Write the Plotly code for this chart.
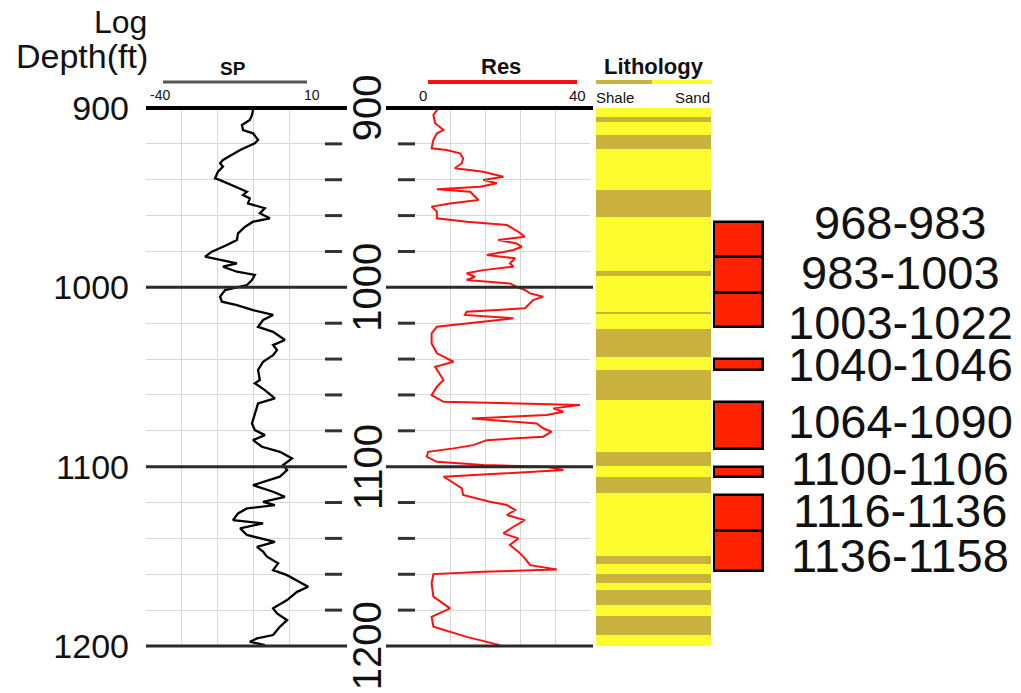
import plotly.graph_objects as go

# ---------------- data ----------------
sp_depth = [901.1, 903.9, 906.7, 909.5, 912.3, 914.1, 917.8, 919.7, 923.4, 926.2,
            929.0, 930.8, 932.7, 935.5, 939.2, 940.2, 942.9, 944.8, 946.7, 948.5,
            950.4, 953.2, 955.9, 958.7, 961.5, 963.4, 966.2, 969.9, 973.6, 976.4,
            980.1, 982.9, 984.8, 986.6, 988.5, 991.3, 993.1, 995.9, 998.7, 1001.5,
            1005.2, 1008.0, 1009.9, 1012.7, 1015.4, 1018.2, 1022.0, 1024.8, 1029.4, 1032.2,
            1035.0, 1037.8, 1041.5, 1046.1, 1051.7,
            1053.5, 1057.3, 1061.9, 1064.7, 1070.3, 1075.9, 1079.6, 1082.4, 1085.2, 1088.9,
            1091.7, 1095.4, 1099.1, 1101.9, 1105.6, 1110.3, 1114.0, 1116.8, 1119.6, 1121.4,
            1123.3, 1126.1, 1129.8, 1131.6, 1134.4, 1138.1, 1141.9, 1144.7, 1147.4, 1150.2,
            1153.9, 1157.7, 1160.5, 1164.2, 1167.0, 1169.8, 1174.4, 1179.0, 1181.8, 1185.6,
            1189.3, 1193.9, 1195.8, 1197.6, 1199.5]
sp_value = [-10.1, -10.4, -11.0, -13.2, -12.9, -10.1, -8.7, -9.6, -13.7, -16.0,
            -18.5, -19.3, -18.5, -19.9, -20.7, -19.3, -16.0, -13.7, -11.8, -12.9,
            -11.0, -11.5, -6.8, -8.2, -5.4, -10.1, -12.3, -14.3, -14.6, -17.4,
            -21.6, -23.5, -19.3, -14.6, -18.5, -14.6, -9.6, -10.4, -11.8, -17.9,
            -19.3, -18.8, -14.6, -10.1, -4.5, -7.3, -8.7, -4.5, -1.2, -4.5,
            -3.4, -4.5, -7.3, -8.7, -8.2,
            -9.6, -6.8, -4.0, -8.7, -9.6, -10.4, -9.6, -6.8, -10.1, -7.6,
            -2.6, 0.8, -1.7, -0.6, -2.6, -10.1, -4.5, -1.2, -7.3, -4.0,
            -11.8, -14.3, -15.7, -7.3, -13.7, -11.8, -4.0, -9.0, -7.3, -6.2,
            -3.1, -4.5, -0.6, 3.0, 5.3, 2.2, -0.6, -4.5, -3.4, -0.6,
            -2.6, -4.5, -9.0, -11.0, -6.8]

res_depth = [900.2, 903.9, 908.5, 912.3, 914.1, 917.8, 922.5, 923.4, 925.3, 928.1,
             930.8, 933.6, 935.5, 938.3, 940.2, 942.0, 943.9, 945.3, 946.7, 949.5,
             951.3, 953.2, 955.0, 957.8, 961.5, 963.4, 965.3, 969.0, 971.8, 973.6,
             975.5, 977.4, 979.2, 982.0, 983.8, 986.6, 988.5, 990.4, 992.2, 994.1,
             995.9, 997.8, 999.7, 1001.5, 1003.4, 1005.2, 1007.1, 1008.9, 1011.7, 1013.6,
             1015.4, 1017.3, 1019.2, 1022.0, 1025.7, 1031.3, 1036.8, 1041.5, 1044.3, 1049.9,
             1051.7, 1055.4, 1060.1, 1063.8, 1064.7, 1065.6, 1067.5, 1069.4, 1071.2, 1073.1,
             1075.9, 1078.6, 1080.5, 1083.3, 1085.2, 1088.0, 1089.8, 1091.7, 1094.5, 1097.3,
             1099.1, 1100.0, 1101.9, 1103.7, 1105.6, 1108.4, 1112.1, 1115.8, 1117.7, 1119.6,
             1121.4, 1124.2, 1127.0, 1129.8, 1133.5, 1137.2, 1140.0, 1143.7, 1147.4, 1151.1,
             1154.9, 1157.3, 1158.6, 1159.9, 1165.1, 1172.5, 1179.0, 1183.7, 1189.3, 1194.9,
             1199.5]
res_value = [5.3, 4.2, 4.6, 6.5, 5.0, 4.2, 3.8, 7.2, 10.3, 11.0,
             10.7, 9.1, 15.6, 20.2, 15.6, 18.7, 14.9, 5.0, 12.6, 13.7,
             14.5, 8.0, 3.8, 5.0, 5.0, 11.8, 21.0, 23.6, 25.1, 19.0,
             23.2, 24.4, 22.5, 16.4, 22.9, 21.7, 22.5, 15.6, 11.8, 13.7,
             11.8, 21.7, 23.2, 25.1, 26.3, 29.3, 27.0, 26.3, 25.1, 11.8,
             11.4, 22.5, 15.6, 5.0, 3.8, 3.8, 5.0, 8.8, 4.6, 6.1,
             6.5, 5.0, 3.8, 6.5, 19.4, 37.7, 31.6, 33.9, 30.1, 13.0,
             27.8, 29.3, 31.2, 29.3, 16.4, 13.3, 8.8, 3.0, 2.7, 5.0,
             15.6, 30.1, 33.9, 20.2, 6.5, 8.4, 10.7, 11.0, 14.1, 17.1,
             21.0, 22.9, 21.0, 25.1, 22.5, 20.2, 23.6, 21.7, 23.6, 25.1,
             26.3, 32.4, 15.6, 4.2, 3.8, 4.2, 8.0, 3.8, 4.2, 11.8,
             19.4]

litho_top = [900, 905, 908, 915, 923, 946, 961, 991, 993.5, 1014,
             1015, 1023, 1039, 1046, 1063, 1091.6, 1099.5, 1106, 1114.5, 1150,
             1154, 1160, 1164.6, 1169, 1177, 1183, 1194]
litho_type = ["Sand", "Shale", "Sand", "Shale", "Sand", "Shale", "Sand", "Shale", "Sand", "Shale",
              "Sand", "Shale", "Sand", "Shale", "Sand", "Shale", "Sand", "Shale", "Sand", "Shale",
              "Sand", "Shale", "Sand", "Shale", "Sand", "Shale", "Sand"]
litho_bottom_depth = 1200

interval_top = [963.5, 983, 1003, 1040, 1064, 1100, 1116, 1136]
interval_base = [983, 1003, 1022, 1046, 1090, 1106, 1136, 1158]
interval_labels = ["968-983", "983-1003", "1003-1022", "1040-1046",
                   "1064-1090", "1100-1106", "1116-1136", "1136-1158"]
interval_label_depth = [964.0, 991.5, 1019.5, 1043.3, 1075.0, 1100.8, 1124.2, 1149.3]

depth_major = [900, 1000, 1100, 1200]
depth_minor = list(range(900, 1201, 20))
sp_range = [-40, 10]
sp_grid = [-40, -30, -20, -10, 0]
res_range = [0, 40]
res_grid = [8, 16, 24, 32]

SAND = "#FCFC2E"
SHALE = "#C9B23E"
FONT = "Liberation Sans, Arial, sans-serif"

# ---------------- layout helpers ----------------
W, H = 1021, 693
T, B = 108, 47
yrange = [1200, 900]


def px(x):
    return x / W


def py(y):
    return (H - B - y) / (H - T - B)


def pdepth(d):
    # depth -> paper fraction (axis is reversed)
    return (yrange[0] - d) / (yrange[0] - yrange[1])


fig = go.Figure()

# SP curve
fig.add_trace(go.Scatter(x=sp_value, y=sp_depth, mode="lines",
                         line=dict(color="black", width=2.3),
                         xaxis="x", yaxis="y", showlegend=False, hoverinfo="skip"))

# depth-track dashes
dx, dy = [], []
for d in depth_minor:
    if d in depth_major:
        continue
    dx += [0, 0.19, None, 0.81, 1.0, None]
    dy += [d, d, None, d, d, None]
fig.add_trace(go.Scatter(x=dx, y=dy, mode="lines", line=dict(color="#333333", width=3),
                         xaxis="x2", yaxis="y2", showlegend=False, hoverinfo="skip"))

# Resistivity curve
fig.add_trace(go.Scatter(x=res_value, y=res_depth, mode="lines",
                         line=dict(color="#FF1010", width=2),
                         xaxis="x3", yaxis="y3", showlegend=False, hoverinfo="skip"))

# Lithology column
litho_base = litho_top[1:] + [litho_bottom_depth]
fig.add_trace(go.Bar(x=[0.5] * len(litho_top),
                     y=[b - t for t, b in zip(litho_top, litho_base)],
                     base=litho_top, width=1,
                     marker=dict(color=[SAND if k == "Sand" else SHALE for k in litho_type],
                                 line=dict(width=0)),
                     xaxis="x4", yaxis="y4", showlegend=False, hoverinfo="skip"))

# Interval boxes
fig.add_trace(go.Bar(x=[0.5] * len(interval_top),
                     y=[b - t for t, b in zip(interval_top, interval_base)],
                     base=interval_top, width=0.95,
                     marker=dict(color="#FF2200", line=dict(color="black", width=2.5)),
                     xaxis="x5", yaxis="y5", showlegend=False, hoverinfo="skip"))

shapes = []
for d in depth_major:
    col = "black" if d == depth_major[0] else "#2a2a2a"
    w = 3.8 if d == depth_major[0] else 3
    for x0, x1 in [(146, 347), (386, 593)]:
        shapes.append(dict(type="line", xref="paper", yref="paper", x0=px(x0), x1=px(x1),
                           y0=pdepth(d), y1=pdepth(d), line=dict(color=col, width=w),
                           layer="above"))
# header lines
shapes.append(dict(type="line", xref="paper", yref="paper", x0=px(163), x1=px(307),
                   y0=py(82), y1=py(82), line=dict(color="#555555", width=3)))
shapes.append(dict(type="line", xref="paper", yref="paper", x0=px(428), x1=px(577),
                   y0=py(82), y1=py(82), line=dict(color="#FF1010", width=4)))
shapes.append(dict(type="line", xref="paper", yref="paper", x0=px(596), x1=px(652),
                   y0=py(82), y1=py(82), line=dict(color=SHALE, width=4)))
shapes.append(dict(type="line", xref="paper", yref="paper", x0=px(652), x1=px(712),
                   y0=py(82), y1=py(82), line=dict(color=SAND, width=4)))

ann = []


def txt(text, x, y, size, xanchor="center", bold=False, yref="paper", xref="paper", angle=0):
    ann.append(dict(text=("<b>%s</b>" % text) if bold else text, x=x, y=y, xref=xref, yref=yref,
                    xanchor=xanchor, yanchor="middle", showarrow=False, textangle=angle,
                    borderpad=0, font=dict(family=FONT, size=size, color="#111111")))


txt("Log", px(148), py(22), 32, xanchor="right")
txt("Depth(ft)", px(149), py(56), 34, xanchor="right")
txt("SP", px(233), py(68), 19, bold=True)
txt(str(sp_range[0]), px(160), py(95), 14)
txt(str(sp_range[1]), px(312), py(95), 14)
txt("Res", px(501), py(66), 22, bold=True)
txt(str(res_range[0]), px(423), py(96), 15)
txt(str(res_range[1]), px(577), py(96), 15)
txt("Lithology", px(654), py(66), 22, bold=True)
txt("Shale", px(595), py(97), 15, xanchor="left")
txt("Sand", px(711), py(97), 15, xanchor="right")

for d in depth_major:
    txt(str(d), 0.47, d, 40, xref="x2", yref="y", angle=-90)

for lab, d in zip(interval_labels, interval_label_depth):
    txt(lab, px(900), d, 47, yref="y")

grid_col = "#d8d8d8"
ytick_text = [str(d) if d in depth_major else "" for d in depth_minor]

fig.update_layout(
    width=W, height=H,
    margin=dict(l=0, r=0, t=T, b=B),
    paper_bgcolor="white", plot_bgcolor="white",
    barmode="overlay", bargap=0,
    font=dict(family=FONT, color="#111111"),
    shapes=shapes, annotations=ann,
    xaxis=dict(domain=[px(146), px(325)], range=sp_range, tickvals=sp_grid,
               showgrid=True, gridcolor=grid_col, gridwidth=1, showticklabels=False,
               zeroline=False, showline=False, ticks="", anchor="y", fixedrange=True),
    yaxis=dict(domain=[0, 1], range=yrange, tickvals=depth_minor, ticktext=ytick_text,
               showgrid=True, gridcolor=grid_col, gridwidth=1, zeroline=False, showline=False,
               ticks="", tickfont=dict(size=34, family=FONT, color="#111111"),
               ticklabelstandoff=16, anchor="x", fixedrange=True),
    xaxis2=dict(domain=[px(325), px(415)], range=[0, 1], visible=False, anchor="y2"),
    yaxis2=dict(domain=[0, 1], range=yrange, matches="y", visible=False, anchor="x2"),
    xaxis3=dict(domain=[px(415), px(590)], range=res_range, tickvals=res_grid,
                showgrid=True, gridcolor=grid_col, gridwidth=1, showticklabels=False,
                zeroline=False, showline=False, ticks="", anchor="y3"),
    yaxis3=dict(domain=[0, 1], range=yrange, matches="y", tickvals=depth_minor,
                showgrid=True, gridcolor=grid_col, gridwidth=1, showticklabels=False,
                zeroline=False, showline=False, ticks="", anchor="x3"),
    xaxis4=dict(domain=[px(596), px(711)], range=[0, 1], visible=False, anchor="y4"),
    yaxis4=dict(domain=[0, 1], range=yrange, matches="y", visible=False, anchor="x4"),
    xaxis5=dict(domain=[px(713), px(764)], range=[0, 1], visible=False, anchor="y5"),
    yaxis5=dict(domain=[0, 1], range=yrange, matches="y", visible=False, anchor="x5"),
)

fig.write_html("out.html")
